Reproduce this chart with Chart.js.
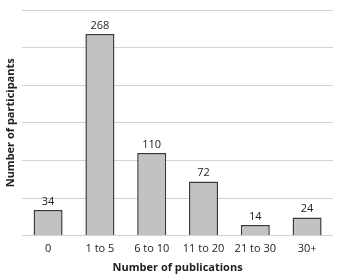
<!DOCTYPE html>
<html>
<head>
<meta charset="utf-8">
<script src="https://cdn.jsdelivr.net/npm/chart.js@4"></script>
<style>
  html, body { margin: 0; padding: 0; background: #fff; }
  #wrap { width: 345px; height: 278px; }
</style>
</head>
<body>
<div id="wrap"><canvas id="pubChart"></canvas></div>
<script>
const categories = ['0', '1 to 5', '6 to 10', '11 to 20', '21 to 30', '30+'];
const participants = [34, 268, 110, 72, 14, 24];
const yMax = 300;
const yStep = 50;

// étiquettes de valeur au-dessus des barres
const valueLabels = {
    id: 'valueLabels',
    afterDatasetsDraw(chart) {
        const ctx = chart.ctx;
        const meta = chart.getDatasetMeta(0);
        ctx.save();
        ctx.font = '11px "Open Sans", sans-serif';
        ctx.fillStyle = '#222';
        ctx.textAlign = 'center';
        ctx.textBaseline = 'bottom';
        meta.data.forEach((bar, i) => {
            ctx.fillText(chart.data.datasets[0].data[i], bar.x, bar.y - 3);
        });
        ctx.restore();
    }
};

new Chart(document.getElementById('pubChart'), {
    type: 'bar',
    data: {
        labels: categories,
        datasets: [{
            label: 'Number of participants',
            data: participants,
            backgroundColor: '#c2c2c2',
            borderColor: '#3a3a3a',
            borderWidth: 1.5,
            borderSkipped: 'bottom',
            categoryPercentage: 1,
            barPercentage: 0.56
        }]
    },
    options: {
        responsive: true,
        maintainAspectRatio: false,
        animation: false,
        layout: { padding: { top: 10, right: 12, left: 4, bottom: 4 } },
        plugins: {
            legend: { display: false },
            tooltip: { enabled: false }
        },
        scales: {
            x: {
                grid: { display: false },
                border: { display: false },
                ticks: { color: '#222', font: { family: '"Open Sans", sans-serif', size: 11 }, padding: -1 },
                title: {
                    display: true,
                    text: 'Number of publications',
                    color: '#222',
                    font: { family: '"Open Sans", sans-serif', size: 11, weight: 'bold' },
                    padding: { top: 6, bottom: 0 }
                }
            },
            y: {
                min: 0,
                max: yMax,
                ticks: { display: false, stepSize: yStep },
                grid: { color: '#d2d2d2', lineWidth: 1, drawTicks: false },
                border: { display: false },
                title: {
                    display: true,
                    text: 'Number of participants',
                    color: '#222',
                    font: { family: '"Open Sans", sans-serif', size: 11, weight: 'bold' },
                    padding: { top: 0, bottom: 5 }
                }
            }
        }
    },
    plugins: [valueLabels]
});
</script>
</body>
</html>
